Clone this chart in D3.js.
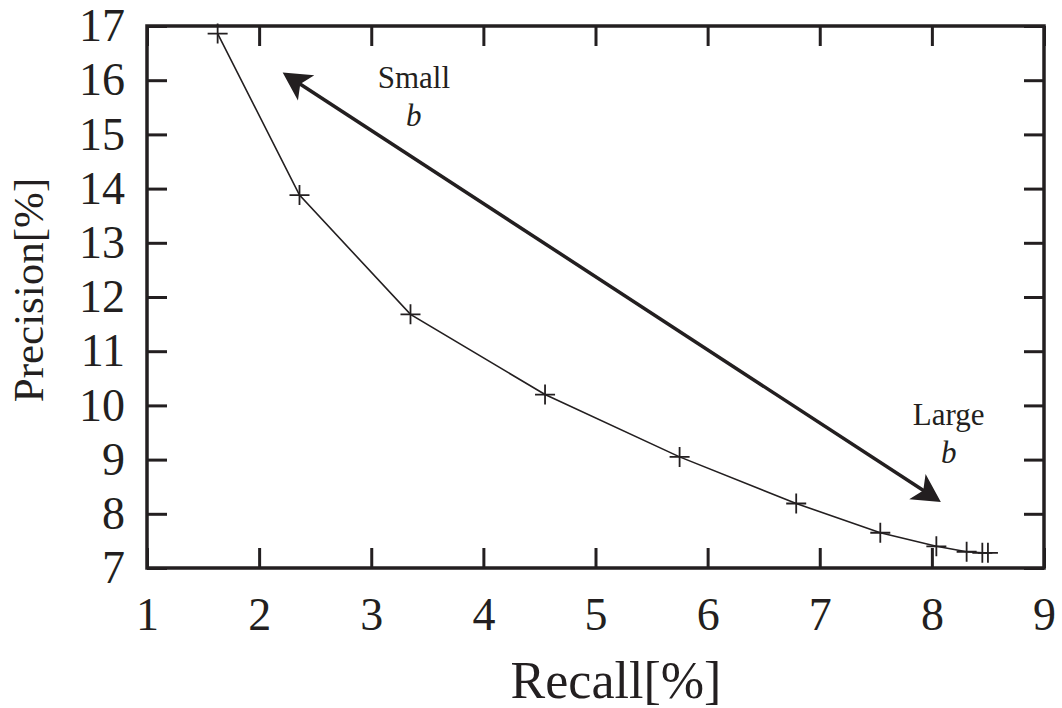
<!DOCTYPE html>
<meta charset="utf-8">
<style>
  body { margin: 0; background: #fff; }
  text { font-family: "Liberation Serif", "Times New Roman", serif; fill: #231f20; }
</style>

<!-- Load d3.js -->
<script src="https://d3js.org/d3.v7.min.js"></script>

<!-- Create a div where the graph will take place -->
<div id="my_dataviz"></div>

<script>
    // data
    var recall = [1.63, 2.36, 3.35, 4.55, 5.75, 6.79, 7.54, 8.04, 8.31, 8.45, 8.50];
    var precision = [16.86, 13.88, 11.68, 10.20, 9.05, 8.19, 7.65, 7.40, 7.30, 7.28, 7.28];

    var xTicks = [1, 2, 3, 4, 5, 6, 7, 8, 9];
    var yTicks = [7, 8, 9, 10, 11, 12, 13, 14, 15, 16, 17];

    // arrow annotation, in data units: [recall, precision]
    var arrowSmall = [2.21, 16.14];
    var arrowLarge = [8.08, 8.22];
    var notes = [
        { lines: ["Small", "b"], at: [3.38, 15.86] },
        { lines: ["Large", "b"], at: [8.15, 9.64] }
    ];

    var ink = "#231f20";

    // set the dimensions and margins of the graph
    var margin = { top: 26, right: 18, bottom: 140, left: 147 },
        width = 1062 - margin.left - margin.right,
        height = 708 - margin.top - margin.bottom;

    var svg = d3.select("#my_dataviz")
        .append("svg")
        .attr("width", 1062)
        .attr("height", 708)
        .append("g")
        .attr("transform", "translate(" + margin.left + "," + margin.top + ")");

    var x = d3.scaleLinear().domain([1, 9]).range([0, width]);
    var y = d3.scaleLinear().domain([7, 17]).range([height, 0]);

    // axes, ticks pointing inward on all four sides
    function styleAxis(g) {
        g.select(".domain").remove();
        g.selectAll(".tick line").attr("stroke", ink).attr("stroke-width", 3);
        g.selectAll(".tick text").style("font-size", "46px").attr("fill", ink);
    }

    svg.append("g")
        .attr("transform", "translate(0," + height + ")")
        .call(d3.axisBottom(x).tickValues(xTicks).tickSizeInner(-20).tickSizeOuter(0).tickPadding(29))
        .call(styleAxis);
    svg.append("g")
        .call(d3.axisLeft(y).tickValues(yTicks).tickSizeInner(-20).tickSizeOuter(0).tickPadding(22))
        .call(styleAxis);
    svg.append("g")
        .call(d3.axisTop(x).tickValues(xTicks).tickSizeInner(-20).tickSizeOuter(0).tickFormat(""))
        .call(styleAxis);
    svg.append("g")
        .attr("transform", "translate(" + width + ",0)")
        .call(d3.axisRight(y).tickValues(yTicks).tickSizeInner(-20).tickSizeOuter(0).tickFormat(""))
        .call(styleAxis);

    // frame
    svg.append("rect")
        .attr("x", 0).attr("y", 0)
        .attr("width", width).attr("height", height)
        .attr("fill", "none")
        .attr("stroke", ink)
        .attr("stroke-width", 3.5);

    // axis titles
    svg.append("text")
        .attr("x", 469)
        .attr("y", 672)
        .attr("text-anchor", "middle")
        .style("font-size", "52px")
        .text("Recall[%]");
    svg.append("text")
        .attr("transform", "translate(" + (-104) + "," + 264 + ")rotate(-90)")
        .attr("text-anchor", "middle")
        .style("font-size", "43px")
        .text("Precision[%]");

    // the curve
    var pts = recall.map(function(d, i) { return [d, precision[i]]; });
    svg.append("path")
        .datum(pts)
        .attr("fill", "none")
        .attr("stroke", ink)
        .attr("stroke-width", 1.6)
        .attr("d", d3.line()
            .x(function(d) { return x(d[0]); })
            .y(function(d) { return y(d[1]); }));

    // plus markers
    svg.selectAll("mypoint")
        .data(pts)
        .enter()
        .append("path")
        .attr("transform", function(d) { return "translate(" + x(d[0]) + "," + y(d[1]) + ")"; })
        .attr("d", "M-10,0H10M0,-10V10")
        .attr("stroke", ink)
        .attr("stroke-width", 1.8)
        .attr("fill", "none");

    // double headed arrow
    var ax0 = x(arrowSmall[0]), ay0 = y(arrowSmall[1]);
    var ax1 = x(arrowLarge[0]), ay1 = y(arrowLarge[1]);
    var len = Math.hypot(ax1 - ax0, ay1 - ay0);
    var ux = (ax1 - ax0) / len, uy = (ay1 - ay0) / len;

    svg.append("line")
        .attr("x1", ax0 + ux * 18).attr("y1", ay0 + uy * 18)
        .attr("x2", ax1 - ux * 18).attr("y2", ay1 - uy * 18)
        .attr("stroke", ink)
        .attr("stroke-width", 3.5);

    function head(tx, ty, dx, dy) {
        // dx,dy point from the tip back along the shaft
        var px = -dy, py = dx;
        var p = [
            [tx, ty],
            [tx + dx * 28 + px * 15, ty + dy * 28 + py * 15],
            [tx + dx * 21, ty + dy * 21],
            [tx + dx * 28 - px * 15, ty + dy * 28 - py * 15]
        ];
        return "M" + p.join("L") + "Z";
    }
    svg.append("path").attr("d", head(ax0, ay0, ux, uy)).attr("fill", ink);
    svg.append("path").attr("d", head(ax1, ay1, -ux, -uy)).attr("fill", ink);

    // labels beside the arrow
    notes.forEach(function(n) {
        var t = svg.append("text")
            .attr("x", x(n.at[0]))
            .attr("y", y(n.at[1]))
            .attr("text-anchor", "middle")
            .style("font-size", "31px");
        t.append("tspan").attr("x", x(n.at[0])).text(n.lines[0]);
        t.append("tspan").attr("x", x(n.at[0])).attr("dy", "1.24em")
            .style("font-style", "italic").text(n.lines[1]);
    });
</script>
